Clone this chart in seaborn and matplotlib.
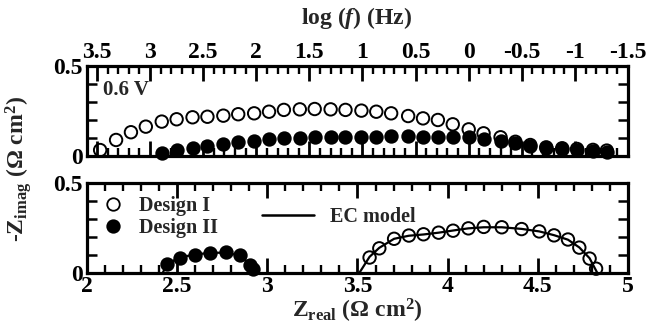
import matplotlib
matplotlib.use("Agg")
import matplotlib.pyplot as plt
from matplotlib.lines import Line2D
from matplotlib.ticker import MultipleLocator, FixedLocator, FuncFormatter
import seaborn as sns

# top panel: -Zimag vs log(f)
log_f = [3.47, 3.32, 3.18, 3.04, 2.89, 2.75, 2.60, 2.46, 2.31, 2.17, 2.02, 1.88,
         1.74, 1.59, 1.45, 1.30, 1.16, 1.01, 0.87, 0.73, 0.57, 0.43, 0.29, 0.15,
         0.00, -0.14, -0.30, -0.44, -0.58, -0.73, -0.88, -1.02, -1.17, -1.30]
top_d1 = [0.033, 0.089, 0.132, 0.163, 0.191, 0.204, 0.215, 0.218, 0.224, 0.232,
          0.237, 0.246, 0.256, 0.259, 0.261, 0.259, 0.256, 0.252, 0.246, 0.237,
          0.222, 0.209, 0.200, 0.176, 0.148, 0.126, 0.104, 0.079, 0.061, 0.048,
          0.043, 0.039, 0.034, 0.030]
log_f_d2 = log_f[4:]
top_d2 = [0.018, 0.033, 0.046, 0.057, 0.067, 0.076, 0.085, 0.093, 0.098, 0.102,
          0.104, 0.104, 0.104, 0.107, 0.107, 0.111, 0.111, 0.107, 0.107, 0.107,
          0.104, 0.094, 0.083, 0.070, 0.056, 0.043, 0.037, 0.033, 0.028, 0.024]

# bottom panel: Nyquist
zr_d1 = [3.567, 3.621, 3.703, 3.785, 3.866, 3.950, 4.030, 4.115, 4.200, 4.300,
         4.410, 4.508, 4.590, 4.667, 4.730, 4.787, 4.823]
zi_d1 = [0.086, 0.137, 0.190, 0.208, 0.215, 0.224, 0.235, 0.248, 0.256, 0.254,
         0.244, 0.231, 0.209, 0.186, 0.141, 0.080, 0.024]
zr_d2 = [2.443, 2.516, 2.601, 2.682, 2.771, 2.846, 2.906, 2.918]
zi_d2 = [0.051, 0.086, 0.102, 0.112, 0.114, 0.098, 0.046, 0.022]

# EC model fits
fit_zr_d1 = [3.51, 3.567, 3.621, 3.703, 3.785, 3.866, 3.950, 4.030, 4.115, 4.200,
             4.300, 4.410, 4.508, 4.590, 4.667, 4.730, 4.787, 4.83]
fit_zi_d1 = [0.0, 0.090, 0.140, 0.190, 0.207, 0.214, 0.224, 0.236, 0.248, 0.254,
             0.254, 0.245, 0.231, 0.210, 0.185, 0.142, 0.082, 0.0]
fit_zr_d2 = [2.42, 2.443, 2.516, 2.601, 2.682, 2.771, 2.846, 2.906, 2.93]
fit_zi_d2 = [0.0, 0.050, 0.087, 0.103, 0.112, 0.113, 0.097, 0.048, 0.0]

sns.set_theme(style="ticks")
plt.rcParams['font.family'] = ['Liberation Serif', 'DejaVu Serif']
plt.rcParams['font.weight'] = 'bold'
plt.rcParams['axes.unicode_minus'] = False
plt.rcParams['axes.axisbelow'] = False
plt.rcParams['mathtext.fontset'] = 'custom'
plt.rcParams['mathtext.rm'] = 'Liberation Serif:bold'
plt.rcParams['mathtext.it'] = 'Liberation Serif:italic:bold'
plt.rcParams['mathtext.bf'] = 'Liberation Serif:bold'

fig = plt.figure(figsize=(6.52, 3.26), dpi=100)
ax1 = fig.add_axes([0.1334, 0.5215, 0.8298, 0.2761])
ax2 = fig.add_axes([0.1334, 0.1626, 0.8298, 0.2761])

fmt = FuncFormatter(lambda v, p: '%g' % round(v, 2))
ms = 80
lw_marker = 1.4

# top panel
sns.scatterplot(x=log_f, y=top_d1, ax=ax1, marker='o', s=ms, facecolor='none',
                edgecolor='black', linewidth=lw_marker, clip_on=False, zorder=3)
sns.scatterplot(x=log_f_d2, y=top_d2, ax=ax1, marker='o', s=ms, color='black',
                edgecolor='black', linewidth=lw_marker, clip_on=False, zorder=4)
ax1.set_xlim(3.594, -1.5)
ax1.set_ylim(0, 0.5)
ax1.text(0.03, 0.733, '0.6 V', transform=ax1.transAxes, fontsize=15,
         fontweight='bold', va='center', ha='left')

# bottom panel
sns.lineplot(x=fit_zr_d1, y=fit_zi_d1, ax=ax2, color='black', linewidth=1.6,
             sort=False, zorder=2)
sns.lineplot(x=fit_zr_d2, y=fit_zi_d2, ax=ax2, color='black', linewidth=1.6,
             sort=False, zorder=2)
sns.scatterplot(x=zr_d1, y=zi_d1, ax=ax2, marker='o', s=ms, facecolor='none',
                edgecolor='black', linewidth=lw_marker, clip_on=False, zorder=3)
sns.scatterplot(x=zr_d2, y=zi_d2, ax=ax2, marker='o', s=ms, color='black',
                edgecolor='black', linewidth=lw_marker, clip_on=False, zorder=4)
ax2.set_xlim(2, 5)
ax2.set_ylim(0, 0.5)

h1 = [Line2D([], [], marker='o', ls='none', mfc='none', mec='black', ms=9, mew=1.3),
      Line2D([], [], marker='o', ls='none', mfc='black', mec='black', ms=9, mew=1.3)]
leg1 = ax2.legend(h1, ['Design I', 'Design II'], loc='upper left',
                  bbox_to_anchor=(-0.016, 1.01), frameon=False,
                  handletextpad=0.3, labelspacing=0.1, borderaxespad=0.3,
                  prop={'weight': 'bold', 'size': 14.5})
ax2.add_artist(leg1)
h2 = [Line2D([], [], color='black', lw=1.8)]
ax2.legend(h2, ['EC model'], loc='upper left', bbox_to_anchor=(0.29, 0.93),
           frameon=False, handlelength=2.6, handletextpad=0.8,
           prop={'weight': 'bold', 'size': 14.5})

# axes, ticks and frame
for ax in (ax1, ax2):
    ax.set_xlabel('')
    ax.set_ylabel('')
    ax.set_axisbelow(False)
    ax.xaxis.set_major_locator(MultipleLocator(0.5))
    ax.xaxis.set_minor_locator(MultipleLocator(0.1))
    ax.xaxis.set_major_formatter(fmt)
    ax.yaxis.set_major_locator(FixedLocator([0, 0.5]))
    ax.yaxis.set_minor_locator(MultipleLocator(0.1))
    ax.yaxis.set_major_formatter(fmt)
    ax.tick_params(axis='x', which='major', direction='in', top=True, bottom=True,
                   colors='#000000', length=11, width=2.0, pad=2.5, labelsize=17)
    ax.tick_params(axis='x', which='minor', direction='in', top=True, bottom=True,
                   colors='#000000', length=6, width=1.7)
    ax.tick_params(axis='y', which='both', direction='in', left=True, right=True,
                   colors='#000000', length=7, width=1.8, pad=3, labelsize=17)
    ax.xaxis.set_zorder(6)
    ax.yaxis.set_zorder(6)
    for lab in ax.get_xticklabels() + ax.get_yticklabels():
        lab.set_fontweight('bold')
    for s in ax.spines.values():
        s.set_linewidth(2.3)
        s.set_color('black')
        s.set_zorder(7)
ax1.tick_params(axis='x', which='both', labeltop=True, labelbottom=False)

# make sure every tick line is switched on and drawn
fig.canvas.draw()
for ax, show_bottom in ((ax1, True), (ax2, True)):
    for axis in (ax.xaxis, ax.yaxis):
        for t in axis.get_major_ticks() + axis.get_minor_ticks():
            t.tick1line.set_visible(True)
            t.tick2line.set_visible(True)
            t.tick1line.set_color('black')
            t.tick2line.set_color('black')

fig.text(0.5475, 0.945, 'log ($\\it{f}$) (Hz)', ha='center', va='center',
         fontsize=17, fontweight='bold')
fig.text(0.028, 0.48, '-Z$_{\\mathrm{imag}}$ (Ω cm$^{\\mathrm{2}}$)', rotation=90,
         ha='center', va='center', fontsize=17, fontweight='bold')
fig.text(0.5475, 0.045, 'Z$_{\\mathrm{real}}$ (Ω cm$^{\\mathrm{2}}$)', ha='center',
         va='center', fontsize=17, fontweight='bold')

fig.savefig('out.png', dpi=100)
